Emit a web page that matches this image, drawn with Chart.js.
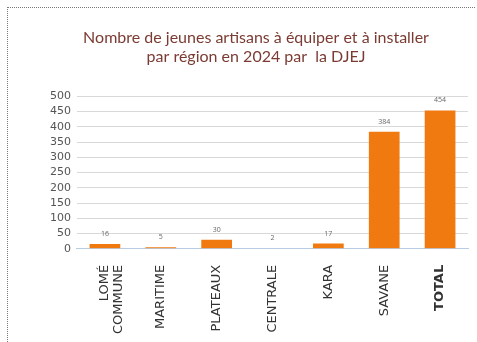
<!DOCTYPE html>
<html>
<head>
<meta charset="utf-8">
<script src="https://cdn.jsdelivr.net/npm/chart.js@4"></script>
<style>
  body { margin: 0; background: #fff; }
  #wrap { position: relative; width: 477px; height: 342px; }
  #frame { position: absolute; left: 7px; top: 7px; right: 2px; bottom: -2px;
           border-left: 1px dotted #777; border-top: 1px dotted #777; }
  canvas { position: absolute; left: 0; top: 0; }
</style>
</head>
<body>
<div id="wrap">
  <div id="frame"></div>
  <canvas id="myChart" width="477" height="342"></canvas>
</div>
<script>
// données
var regions = [["LOMÉ", "COMMUNE"], "MARITIME", "PLATEAUX", "CENTRALE", "KARA", "SAVANE", "TOTAL"];
var jeunes = [16, 5, 30, 2, 17, 384, 454];
var yTicks = [0, 50, 100, 150, 200, 250, 300, 350, 400, 450, 500];

// petites étiquettes au-dessus des barres
var valueLabels = {
  id: "valueLabels",
  afterDatasetsDraw(chart) {
    var ctx = chart.ctx;
    var meta = chart.getDatasetMeta(0);
    ctx.save();
    ctx.font = "7px 'Open Sans'";
    ctx.fillStyle = "#666";
    ctx.textAlign = "center";
    ctx.textBaseline = "middle";
    meta.data.forEach((bar, i) => {
      ctx.fillText(jeunes[i], bar.x, bar.y - 10);
    });
    ctx.restore();
  }
};

var ctx = document.getElementById("myChart").getContext("2d");
var chart = new Chart(ctx, {
  type: "bar",
  data: {
    labels: regions,
    datasets: [
      {
        data: jeunes,
        backgroundColor: "#f07a10",
        barPercentage: 0.55,
        categoryPercentage: 1
      }
    ]
  },
  options: {
    responsive: false,
    animation: false,
    layout: { padding: { left: 44, right: 9, top: 28, bottom: 0 } },
    plugins: {
      legend: { display: false },
      tooltip: { enabled: false },
      title: {
        display: true,
        text: ["Nombre de jeunes artisans à équiper et à installer", "par région en 2024 par  la DJEJ"],
        color: "#7b3b33",
        font: { family: "Lato", size: 16, weight: "normal", lineHeight: 1.2 },
        padding: { top: 0, bottom: 30 }
      }
    },
    scales: {
      y: {
        min: 0,
        max: 500,
        afterBuildTicks(axis) {
          axis.ticks = yTicks.map(v => ({ value: v }));
        },
        ticks: { autoSkip: false, color: "#555", font: { family: "DejaVu Sans", size: 11 }, padding: 6 },
        grid: { color: "#d9d9d9", drawTicks: false },
        border: { display: false }
      },
      x: {
        ticks: {
          maxRotation: 90,
          minRotation: 90,
          autoSkip: false,
          padding: 8,
          color: "#333",
          font: ctx => ({
            family: "DejaVu Sans",
            size: 13,
            lineHeight: 1.05,
            weight: ctx.index === 6 ? "bold" : "normal"
          })
        },
        grid: { display: false },
        border: { color: "#b8cce4" }
      }
    }
  },
  plugins: [valueLabels]
});
</script>
</body>
</html>
